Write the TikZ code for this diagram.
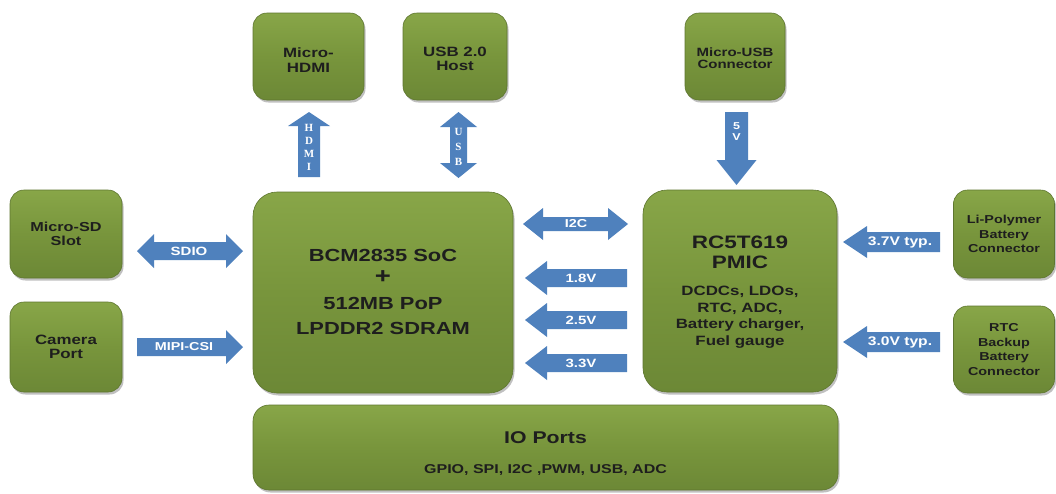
\documentclass[tikz,border=0pt]{standalone}
\usepackage{fontspec}
\setmainfont{Liberation Sans}
\newfontfamily\boxfont[FakeStretch=1.25]{Liberation Sans}
\newfontfamily\serfont{Liberation Serif}
\usetikzlibrary{shadows}
\definecolor{boxgreen}{HTML}{78953C}
\definecolor{boxtop}{HTML}{88A648}
\definecolor{boxbot}{HTML}{6C8836}
\definecolor{boxedge}{HTML}{5E7630}
\definecolor{blkblue}{HTML}{4F81BD}
\definecolor{txtdark}{HTML}{1E1E1E}
\newcommand\harrowR[6]{\fill[blk] (#1,{#3-#4}) -- ({#2-#6},{#3-#4}) -- ({#2-#6},{#3-#5}) -- (#2,#3) -- ({#2-#6},{#3+#5}) -- ({#2-#6},{#3+#4}) -- (#1,{#3+#4}) -- cycle;}
\newcommand\harrowL[6]{\fill[blk] (#2,{#3-#4}) -- ({#1+#6},{#3-#4}) -- ({#1+#6},{#3-#5}) -- (#1,#3) -- ({#1+#6},{#3+#5}) -- ({#1+#6},{#3+#4}) -- (#2,{#3+#4}) -- cycle;}
\newcommand\harrowLR[6]{\fill[blk] (#1,#3) -- ({#1+#6},{#3-#5}) -- ({#1+#6},{#3-#4}) -- ({#2-#6},{#3-#4}) -- ({#2-#6},{#3-#5}) -- (#2,#3) -- ({#2-#6},{#3+#5}) -- ({#2-#6},{#3+#4}) -- ({#1+#6},{#3+#4}) -- ({#1+#6},{#3+#5}) -- cycle;}
\newcommand\varrowU[6]{\fill[blk] (#1,#2) -- ({#1+#5},{#2+#6}) -- ({#1+#4},{#2+#6}) -- ({#1+#4},#3) -- ({#1-#4},#3) -- ({#1-#4},{#2+#6}) -- ({#1-#5},{#2+#6}) -- cycle;}
\newcommand\varrowD[6]{\fill[blk] ({#1-#4},#2) -- ({#1+#4},#2) -- ({#1+#4},{#3-#6}) -- ({#1+#5},{#3-#6}) -- (#1,#3) -- ({#1-#5},{#3-#6}) -- ({#1-#4},{#3-#6}) -- cycle;}
\newcommand\varrowUD[6]{\fill[blk] (#1,#2) -- ({#1+#5},{#2+#6}) -- ({#1+#4},{#2+#6}) -- ({#1+#4},{#3-#6}) -- ({#1+#5},{#3-#6}) -- (#1,#3) -- ({#1-#5},{#3-#6}) -- ({#1-#4},{#3-#6}) -- ({#1-#4},{#2+#6}) -- ({#1-#5},{#2+#6}) -- cycle;}
\begin{document}
\begin{tikzpicture}[x=1pt,y=-1pt,
  gbox/.style={rounded corners=14pt, draw=boxedge, line width=0.6pt,
    top color=boxtop, bottom color=boxbot, middle color=boxgreen,
    drop shadow={shadow xshift=1.5pt, shadow yshift=-2.5pt, opacity=0.35, fill=black!70},
    inner sep=0pt, align=center, text=txtdark,
    font=\boxfont\bfseries\fontsize{13.5}{14.5}\selectfont},
  toptxt/.style={text=txtdark, inner sep=0pt, align=center,
    font=\boxfont\bfseries\fontsize{13.5}{14.5}\selectfont},
  smallfont/.style={font=\boxfont\bfseries\fontsize{11.5}{14.8}\selectfont},
  bigbox/.style={gbox, rounded corners=24pt},
  blk/.style={fill=blkblue},
  alab/.style={text=white, inner sep=0pt, font=\boxfont\bfseries\fontsize{11.5}{12}\selectfont},
  vlab/.style={text=white, inner sep=0pt, align=center, font=\serfont\bfseries\fontsize{11}{13}\selectfont},
  ttl/.style={text=txtdark, inner sep=0pt, align=center, font=\boxfont\bfseries\fontsize{17.5}{20}\selectfont},
  sub/.style={text=txtdark, inner sep=0pt, align=center, font=\boxfont\bfseries\fontsize{13.5}{16.5}\selectfont}
]
\useasboundingbox (0,0) rectangle (1056,493);
\fill[white] (0,0) rectangle (1056,493);

% boxes
\node[gbox, minimum width=111pt, minimum height=87pt] (hdmi) at (308.5,56.5) {};
\node[toptxt] (hdmit) at (308.5,60) {Micro-\\HDMI};
\node[gbox, minimum width=104pt, minimum height=87pt] (usbh) at (455,56.5) {};
\node[toptxt] (usbht) at (455,59) {USB 2.0\\Host};
\node[gbox, minimum width=100pt, minimum height=87pt] (musb) at (735,56.5) {};
\node[toptxt, font=\boxfont\bfseries\fontsize{12}{12.5}\selectfont] (musbt) at (735,58) {Micro-USB\\Connector};
\node[gbox, font=\boxfont\bfseries\fontsize{13}{14.5}\selectfont, minimum width=112pt, minimum height=88pt] (sd) at (66,234) {Micro-SD\\Slot};
\node[gbox, minimum width=112pt, minimum height=90pt] (cam) at (66,347) {Camera\\Port};
\node[bigbox, minimum width=260pt, minimum height=201pt] (bcm) at (383,292.5) {};
\node[bigbox, minimum width=194pt, minimum height=202pt] (pmic) at (740,291) {};
\node[gbox, smallfont, minimum width=101pt, minimum height=88pt] (lipo) at (1004,234) {Li-Polymer\\Battery\\Connector};
\node[gbox, smallfont, minimum width=101pt, minimum height=87pt] (rtc) at (1004,349.5) {RTC\\Backup\\Battery\\Connector};
\node[gbox, rounded corners=16pt, minimum width=585pt, minimum height=85pt] (io) at (545.5,447.5) {};

% box texts
\node[ttl] (bcmt1) at (383,255) {BCM2835 SoC};
\node[ttl, font=\boxfont\bfseries\fontsize{22}{22}\selectfont] (bcmplus) at (383,277) {+};
\node[ttl] (bcmt2) at (383,303) {512MB PoP};
\node[ttl] (bcmt3) at (383,328) {LPDDR2 SDRAM};
\node[ttl, font=\boxfont\bfseries\fontsize{18}{20}\selectfont] (pmict) at (740,252) {RC5T619\\PMIC};
\node[sub] (pmics) at (740,317) {DCDCs, LDOs,\\RTC, ADC,\\Battery charger,\\Fuel gauge};
\node[ttl, font=\boxfont\bfseries\fontsize{17}{18}\selectfont] (iot) at (545.5,438) {IO Ports};
\node[sub, font=\boxfont\bfseries\fontsize{12.8}{14}\selectfont] (ios) at (545.5,470) {GPIO, SPI, I2C ,PWM, USB, ADC};

% vertical arrows
\varrowU{309}{112}{177}{11}{21}{14}
\node[vlab] (hdmil) at (309,147) {H\\D\\M\\I};
\varrowUD{458.5}{112}{178}{8.5}{18.5}{15}
\node[vlab, font=\serfont\bfseries\fontsize{11}{15}\selectfont] (usbl) at (458.5,147) {U\\S\\B};
\varrowD{736.5}{112}{185}{11.5}{20}{25}
\node[vlab, font=\boxfont\bfseries\fontsize{10}{11}\selectfont] (vl) at (736.5,132) {5\\V};

% left arrows
\harrowLR{137}{243}{251}{9}{17}{17}
\node[alab, font=\boxfont\bfseries\fontsize{12}{12}\selectfont] (sdiol) at (189,251) {SDIO};
\harrowR{137}{243}{347}{9}{17}{17}
\node[alab] (mipil) at (184,347) {MIPI-CSI};

% middle arrows
\harrowLR{523}{628}{224}{7}{16}{20}
\node[alab] (i2cl) at (576,224) {I2C};
\harrowL{525}{627}{278}{9}{17}{22}
\node[alab, font=\boxfont\bfseries\fontsize{12}{12}\selectfont] (v18) at (581,278) {1.8V};
\harrowL{525}{627}{320}{9}{17}{22}
\node[alab, font=\boxfont\bfseries\fontsize{12}{12}\selectfont] (v25) at (581,320) {2.5V};
\harrowL{525}{627}{363}{9}{17}{22}
\node[alab, font=\boxfont\bfseries\fontsize{12}{12}\selectfont] (v33) at (581,363) {3.3V};

% right arrows
\harrowL{843}{940}{242}{10}{16}{24}
\node[alab, font=\boxfont\bfseries\fontsize{12.5}{12}\selectfont] (v37) at (900,242) {3.7V typ.};
\harrowL{843}{940}{342}{10}{16}{24}
\node[alab, font=\boxfont\bfseries\fontsize{12.5}{12}\selectfont] (v30) at (900,342) {3.0V typ.};
\end{tikzpicture}
\end{document}
